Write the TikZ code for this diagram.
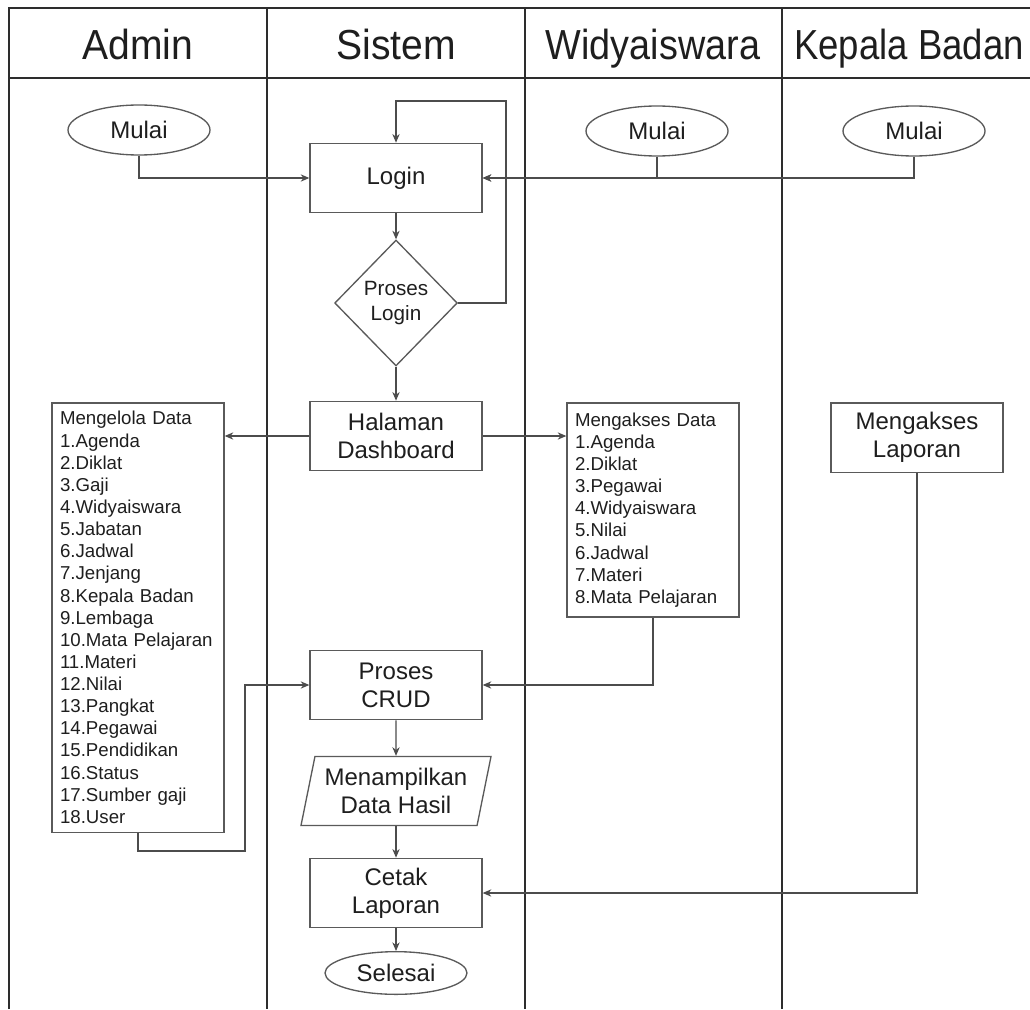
\documentclass[tikz,border=0pt]{standalone}
\usepackage{fontspec}
\setmainfont{Liberation Sans}
\usetikzlibrary{arrows.meta,shapes.geometric}
\usepackage{xcolor}
\definecolor{lanegray}{RGB}{45,45,45}
\definecolor{boxgray}{RGB}{90,90,90}
\definecolor{txtgray}{RGB}{30,30,30}

\begin{document}
\begin{tikzpicture}[x=0.75pt, y=-0.75pt, font=\fontsize{18}{21}\selectfont, text=txtgray,
  >={Stealth[length=6.5pt,width=5.5pt]},
  lane/.style={draw=lanegray, line width=2.2pt},
  head/.style={anchor=base, font=\fontsize{31.5}{36}\selectfont},
  proc/.style={draw=boxgray, line width=1pt, fill=white, minimum width=129pt,
               minimum height=52pt, align=center, inner sep=2pt},
  term/.style={ellipse, draw=boxgray, line width=1pt, minimum width=106.5pt,
               minimum height=37.5pt, inner sep=0pt},
  dec/.style={diamond, draw=boxgray, line width=1pt, minimum width=92pt,
              minimum height=94.5pt, inner sep=0pt, align=center,
              font=\fontsize{15.5}{18.5}\selectfont},
  io/.style={trapezium, trapezium left angle=73, trapezium right angle=107,
             trapezium stretches body, draw=boxgray, line width=1pt,
             minimum width=142.5pt, minimum height=51.75pt, inner sep=0pt, align=center},
  list/.style={draw=boxgray, line width=1pt, text width=117pt, inner xsep=6pt,
               inner ysep=6pt, align=left, font=\fontsize{14}{16.6}\selectfont},
  flow/.style={->, draw=boxgray!85!black, line width=0.8pt}]
\useasboundingbox (0,0) rectangle (1030,1009);
\draw[lane] (9,1009) -- (9,8) -- (1030,8);
\draw[lane] (9,78) -- (1030,78);
\foreach \x in {267,525,782}{\draw[lane] (\x,8) -- (\x,1009);}
\node[head] (hA) at (138,60) {\scalebox{0.93}[1]{Admin}};
\node[head] (hS) at (396,60) {\scalebox{0.93}[1]{Sistem}};
\node[head] (hW) at (653,60) {\scalebox{0.9}[1]{Widyaiswara}};
\node[head] (hK) at (909,60) {\scalebox{0.87}[1]{Kepala Badan}};
\node[term] (mA) at (139,130) {Mulai};
\node[term] (mW) at (657,131) {Mulai};
\node[term] (mK) at (914,131) {Mulai};
\node[proc] (login) at (396,178) {Login};
\node[dec] (cek) at (396,303) {Proses\\Login};
\node[proc] (dash) at (396,436) {Halaman\\Dashboard};
\node[list, minimum height=322pt] (adm) at (138,617.5) {Mengelola Data\\1.Agenda\\2.Diklat\\3.Gaji\\4.Widyaiswara\\5.Jabatan\\6.Jadwal\\7.Jenjang\\8.Kepala Badan\\9.Lembaga\\10.Mata Pelajaran\\11.Materi\\12.Nilai\\13.Pangkat\\14.Pegawai\\15.Pendidikan\\16.Status\\17.Sumber gaji\\18.User};
\node[list, minimum height=160.5pt] (wid) at (653,510) {Mengakses Data\\1.Agenda\\2.Diklat\\3.Pegawai\\4.Widyaiswara\\5.Nilai\\6.Jadwal\\7.Materi\\8.Mata Pelajaran};
\node[proc] (lap) at (917,437.5) {Mengakses\\Laporan};
\node[proc] (crud) at (396,685) {Proses\\CRUD};
\node[io] (tampil) at (396,791) {Menampilkan\\Data Hasil};
\node[proc] (cetak) at (396,893) {Cetak\\Laporan};
\node[term, minimum height=32pt] (end) at (396,973) {Selesai};
\coordinate (loop) at (506,101);
\coordinate (admc) at (245,851);
\draw[flow] (mA.south) |- (login.west);
\draw[flow] (mW.south) |- (login.east);
\draw[flow] (mK.south) |- (login.east);
\draw[flow] (login) -- (cek);
\draw[flow] (cek.east) -| (loop) -| (login.north);
\draw[flow] (cek) -- (dash);
\draw[flow] (dash.west) -- (dash.west -| adm.east);
\draw[flow] (dash.east) -- (dash.east -| wid.west);
\draw[flow] (adm.south) |- (admc) |- (crud.west);
\draw[flow] (wid.south) |- (crud.east);
\draw[flow] (crud) -- (tampil);
\draw[flow] (tampil) -- (cetak);
\draw[flow] (cetak) -- (end);
\draw[flow] (lap.south) |- (cetak.east);
\end{tikzpicture}
\end{document}
